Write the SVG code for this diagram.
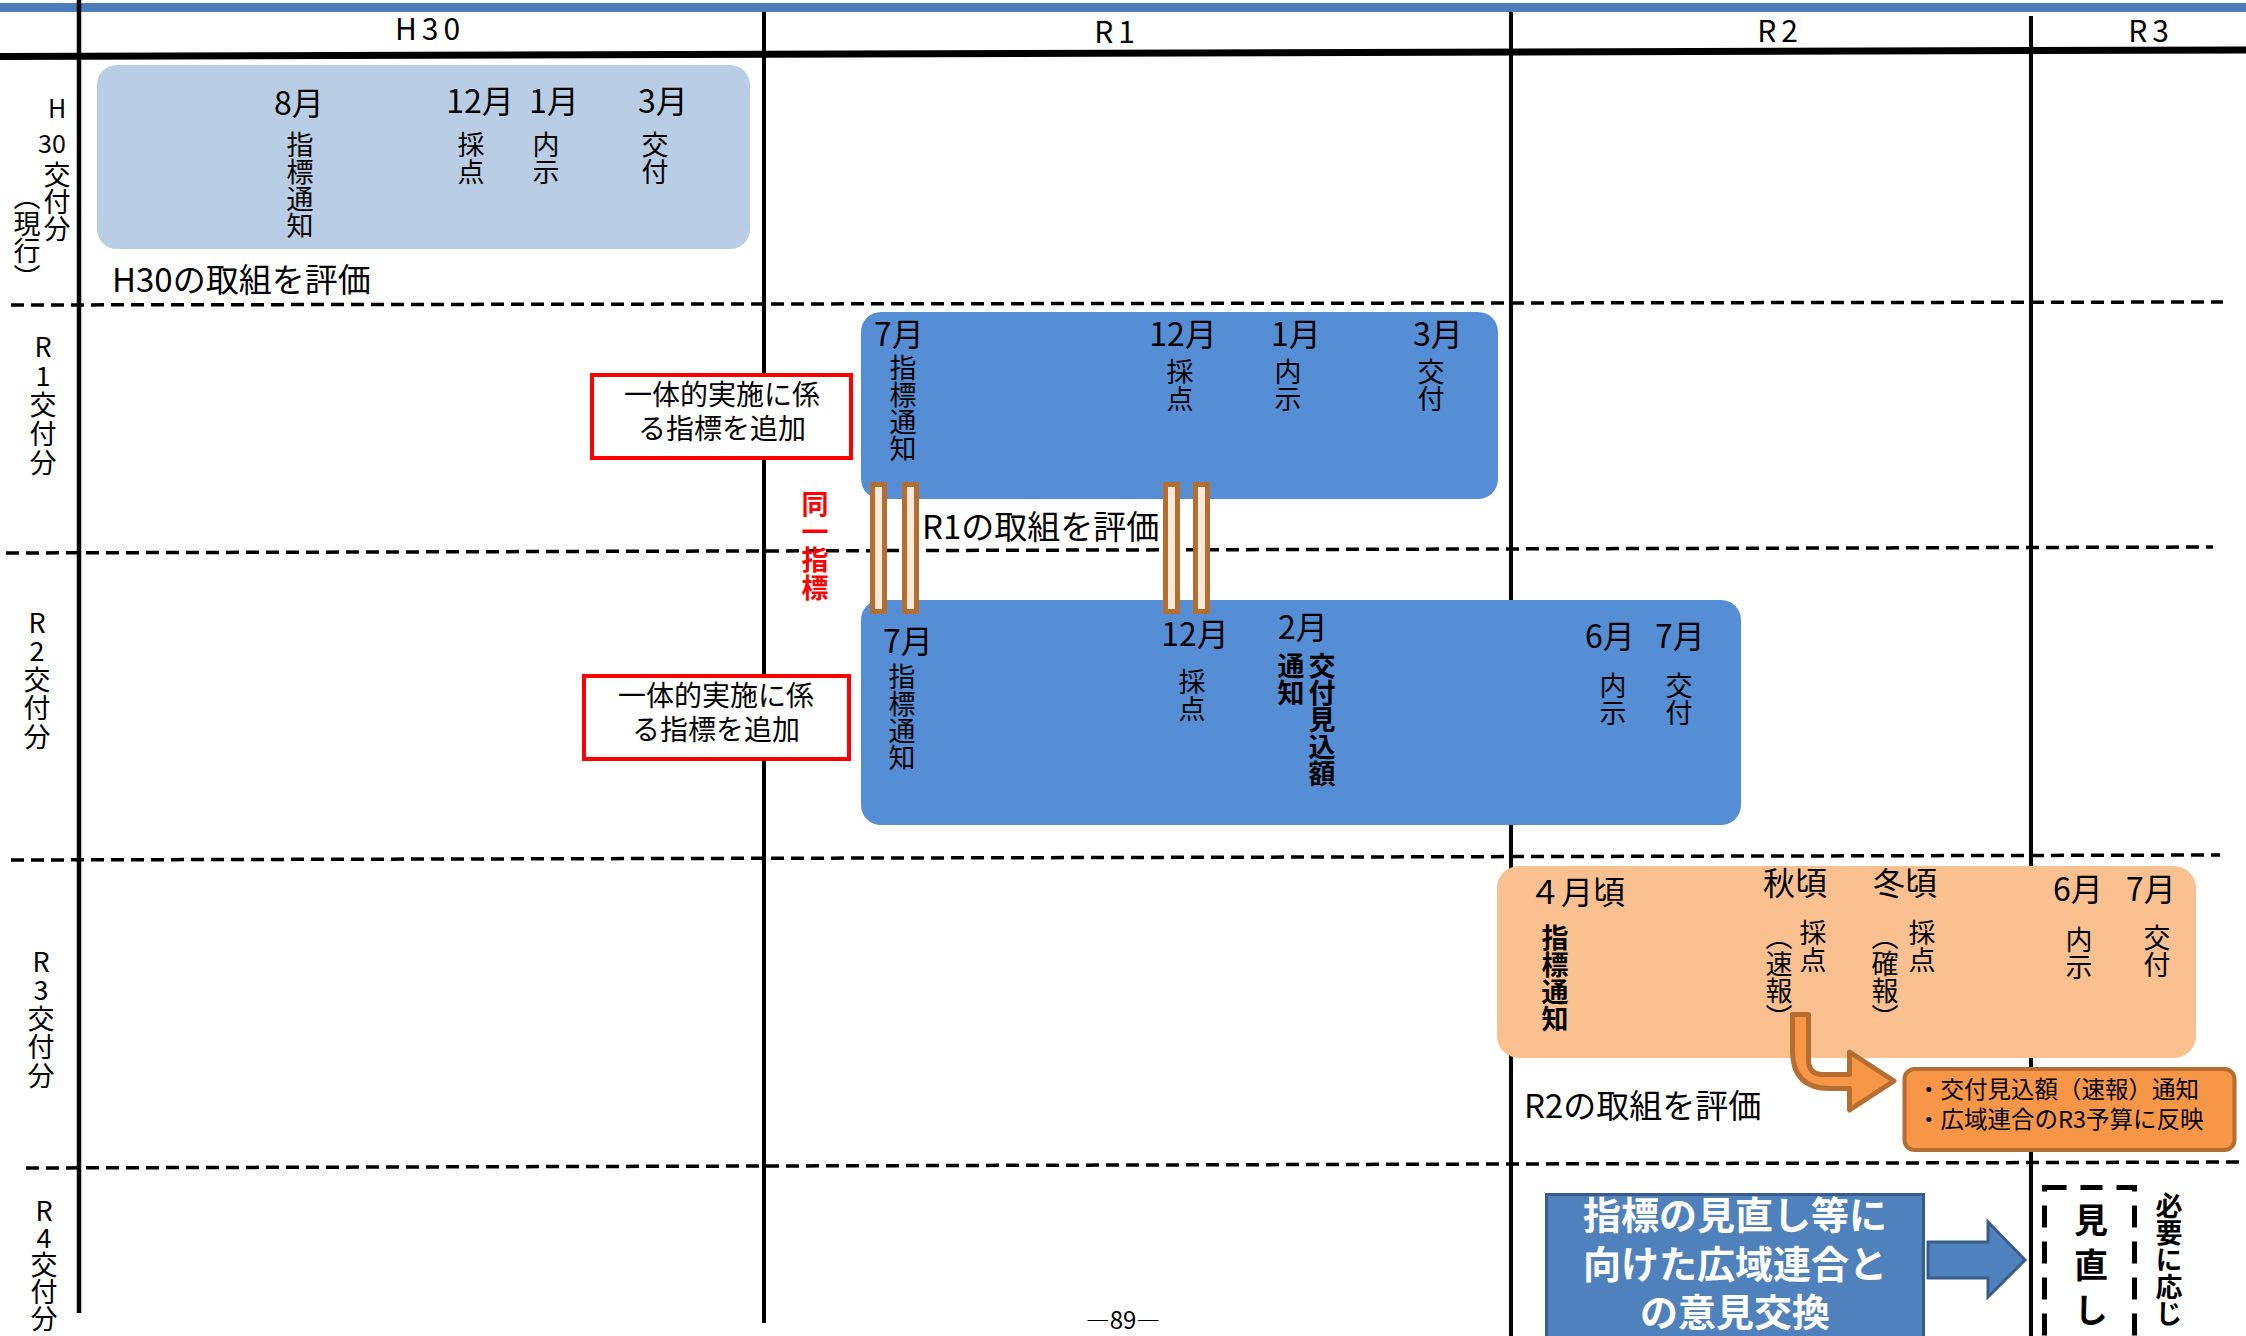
<svg xmlns="http://www.w3.org/2000/svg" width="2246" height="1336" viewBox="0 0 2246 1336">
<style>
text{font-family:"Noto Sans CJK JP","Noto Sans",sans-serif;fill:#000}
.m{font-size:32px;text-anchor:middle}
.vt{font-size:27px;writing-mode:vertical-rl}
.up{text-orientation:upright}
.lbl{font-size:25px;text-anchor:middle}
.b{font-weight:bold}
.ev{font-size:33px}
.grid{stroke:#000;fill:none}
.dash{stroke:#000;stroke-width:3.5;stroke-dasharray:13 7;fill:none}
.bar{fill:#fde9d9;stroke:#b46e32;stroke-width:5}
.red{fill:#fff;stroke:#ff0000;stroke-width:4}
.rt{font-size:28px;text-anchor:middle}
</style>

<g id="grid">
  <rect x="0" y="3" width="2246" height="9" fill="#4a7dba"/>
  <line class="grid" x1="0" y1="56.5" x2="2246" y2="50" stroke-width="7"/>
  <line class="grid" x1="79" y1="0" x2="79" y2="1313" stroke-width="4.5"/>
  <line class="grid" x1="764" y1="12" x2="764" y2="1323" stroke-width="4"/>
  <line class="grid" x1="1511" y1="12" x2="1511" y2="1336" stroke-width="4"/>
  <line class="grid" x1="2031" y1="16" x2="2031" y2="1336" stroke-width="4"/>
  <line class="dash" x1="11" y1="305" x2="2223" y2="302"/>
  <line class="dash" x1="6" y1="553" x2="2213" y2="547"/>
  <line class="dash" x1="11" y1="860" x2="2220" y2="855"/>
  <line class="dash" x1="26" y1="1168" x2="2246" y2="1162"/>
  <text x="430" y="40" font-size="30" text-anchor="middle" letter-spacing="5">H30</text>
  <text x="1117" y="43" font-size="30" text-anchor="middle" letter-spacing="5">R1</text>
  <text x="1780" y="42" font-size="30" text-anchor="middle" letter-spacing="5">R2</text>
  <text x="2151" y="42" font-size="30" text-anchor="middle" letter-spacing="5">R3</text>
</g>

<g id="row-labels">
  <text class="lbl" x="57" y="118">H</text>
  <text class="lbl" x="52" y="153">30</text>
  <text class="vt" x="57" y="161">交付分</text>
  <text class="vt" x="27" y="183">（現行）</text>
  <text class="vt up" x="43" y="333" letter-spacing="2">R1交付分</text>
  <text class="vt up" x="37" y="609" letter-spacing="1.5">R2交付分</text>
  <text class="vt up" x="41" y="948" letter-spacing="1.5">R3交付分</text>
  <text class="vt up" x="44" y="1197">R4交付分</text>
</g>

<g id="h30-box">
  <rect x="97" y="65" width="653" height="184" rx="20" fill="#b9cde5"/>
  <text class="m" x="299" y="115">8月</text>
  <text class="m" x="480" y="113">12月</text>
  <text class="m" x="554" y="113">1月</text>
  <text class="m" x="663" y="113">3月</text>
  <text class="vt" x="300" y="131">指標通知</text>
  <text class="vt" x="471" y="131">採点</text>
  <text class="vt" x="546" y="131">内示</text>
  <text class="vt" x="655" y="131">交付</text>
</g>
<g id="h30-eval"><text class="ev" x="112" y="292">H30の取組を評価</text></g>

<g id="r1-box">
  <rect x="861" y="312" width="637" height="187" rx="20" fill="#558ed5"/>
  <text class="m" x="899" y="346">7月</text>
  <text class="m" x="1183" y="346">12月</text>
  <text class="m" x="1296" y="346">1月</text>
  <text class="m" x="1438" y="346">3月</text>
  <text class="vt" x="903" y="354">指標通知</text>
  <text class="vt" x="1180" y="358">採点</text>
  <text class="vt" x="1288" y="358">内示</text>
  <text class="vt" x="1431" y="358">交付</text>
</g>
<g id="r1-red">
  <rect class="red" x="592" y="375" width="259" height="83"/>
  <text class="rt"><tspan x="722" y="405">一体的実施に係</tspan><tspan x="722" y="439">る指標を追加</tspan></text>
</g>
<g id="r1-eval"><text class="ev" x="922" y="539">R1の取組を評価</text></g>

<g id="r2-box">
  <rect x="861" y="600" width="880" height="225" rx="20" fill="#558ed5"/>
  <text class="m" x="908" y="653">7月</text>
  <text class="m" x="1195" y="646">12月</text>
  <text class="m" x="1303" y="639">2月</text>
  <text class="m" x="1610" y="648">6月</text>
  <text class="m" x="1680" y="648">7月</text>
  <text class="vt" x="902" y="663">指標通知</text>
  <text class="vt" x="1192" y="668">採点</text>
  <text class="vt b" x="1291" y="652">通知</text>
  <text class="vt b" x="1322" y="652">交付見込額</text>
  <text class="vt" x="1613" y="672">内示</text>
  <text class="vt" x="1679" y="672">交付</text>
</g>
<g id="r2-red">
  <rect class="red" x="584" y="676" width="265" height="83"/>
  <text class="rt"><tspan x="716" y="706">一体的実施に係</tspan><tspan x="716" y="740">る指標を追加</tspan></text>
</g>

<g id="same-index">
  <text class="vt b" x="815" y="490" letter-spacing="1" style="fill:#ff0000">同一指標</text>
</g>

<g id="r3-box">
  <rect x="1497" y="866" width="699" height="192" rx="22" fill="#fac090"/>
  <text font-size="32" x="1529" y="904">４月頃</text>
  <text class="m" x="1795" y="895">秋頃</text>
  <text class="m" x="1905" y="895">冬頃</text>
  <text class="m" x="2078" y="901">6月</text>
  <text class="m" x="2151" y="901">7月</text>
  <text class="vt b" x="1555" y="924">指標通知</text>
  <text class="vt" x="1813" y="919">採点</text>
  <text class="vt" x="1779" y="923">（速報）</text>
  <text class="vt" x="1922" y="919">採点</text>
  <text class="vt" x="1885" y="923">（確報）</text>
  <text class="vt" x="2079" y="926">内示</text>
  <text class="vt" x="2157" y="924">交付</text>
</g>
<g id="r2-eval"><text class="ev" x="1524" y="1118">R2の取組を評価</text></g>

<g id="info-box">
  <rect x="1904.5" y="1069" width="330" height="81" rx="10" fill="#f79646" stroke="#b66d31" stroke-width="4"/>
  <text font-size="23.5"><tspan x="1917" y="1098">・交付見込額（速報）通知</tspan><tspan x="1917" y="1128">・広域連合のR3予算に反映</tspan></text>
</g>

<g id="exchange-box">
  <rect x="1546.5" y="1194.5" width="377" height="150" fill="#4f81bd" stroke="#385d8a" stroke-width="3"/>
  <text class="b" font-size="38" text-anchor="middle" style="fill:#fff"><tspan x="1735" y="1229">指標の見直し等に</tspan><tspan x="1735" y="1278">向けた広域連合と</tspan><tspan x="1735" y="1326">の意見交換</tspan></text>
</g>

<g id="review-box">
  <rect x="2044.5" y="1187.5" width="90" height="200" fill="none" stroke="#000" stroke-width="5" stroke-dasharray="22 14"/>
  <text class="vt b" x="2091" y="1203" letter-spacing="11" style="font-size:34px">見直し</text>
</g>
<g id="as-needed">
  <text class="vt b" x="2169" y="1192">必要に応じ</text>
</g>

<g id="connectors">
  <rect class="bar" x="872.5" y="484.5" width="12" height="127"/>
  <rect class="bar" x="904.5" y="484.5" width="12" height="127"/>
  <rect class="bar" x="1165.5" y="484.5" width="12" height="127"/>
  <rect class="bar" x="1195.5" y="484.5" width="12" height="127"/>
  <path d="M1792.5,1014.5 L1808.5,1014.5 L1808.5,1060 Q1808.5,1074.5 1823,1074.5 L1849.5,1074.5 L1849.5,1052 L1894,1081 L1849.5,1110 L1849.5,1088.5 L1830,1088.5 Q1792.5,1088.5 1792.5,1051 Z" fill="#f79646" stroke="#b66d31" stroke-width="5" stroke-linejoin="round"/>
  <polygon points="1928,1242 1988,1242 1988,1222 2025,1260 1988,1297 1988,1278 1928,1278" fill="#4f81bd" stroke="#385d8a" stroke-width="3"/>
</g>

<g id="page-number"><text font-size="24" x="1123" y="1329" text-anchor="middle">―89―</text></g>
</svg>
